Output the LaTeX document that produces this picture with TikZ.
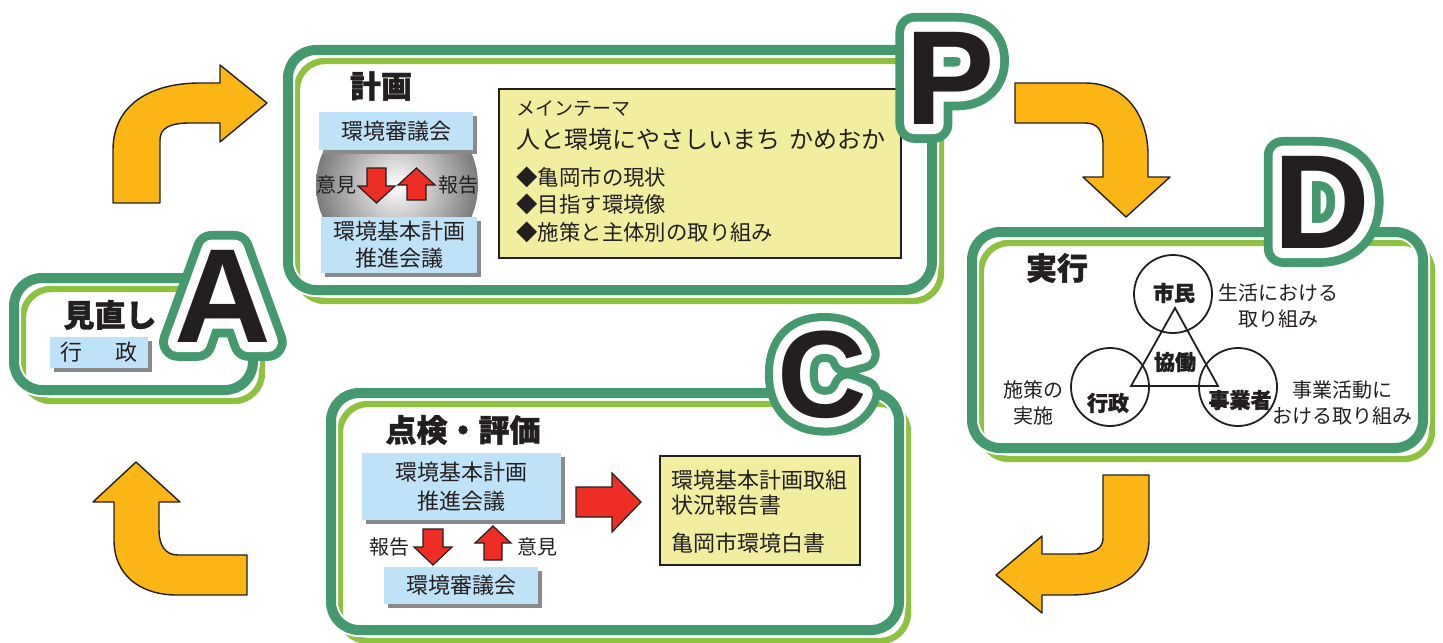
\documentclass[tikz,border=0pt]{standalone}
\usepackage{fontspec}
\setmainfont{Noto Sans CJK JP}
\newfontfamily\heavy{Noto Sans CJK JP}[BoldFeatures={FakeBold=1.3}]
\newfontfamily\letterblack{Liberation Sans Bold}
\newfontfamily\letterwhite{Liberation Sans Bold}[FakeBold=15]
\newfontfamily\lettergreen{Liberation Sans Bold}[FakeBold=28]
\usetikzlibrary{shadows}
\definecolor{dgreen}{HTML}{44996E}
\definecolor{lgreen}{HTML}{8DC13F}
\definecolor{orng}{HTML}{FBB616}
\definecolor{redA}{HTML}{EE2D24}
\definecolor{lblue}{HTML}{BEE3F8}
\definecolor{ylw}{HTML}{F2EE9F}
\definecolor{shadowgray}{HTML}{8A8A8A}
\definecolor{ink}{HTML}{231F20}
\begin{document}
\begin{tikzpicture}[x=0.5pt,y=-0.5pt,
  frameD/.style={draw=dgreen,line width=5pt,rounded corners=14pt},
  frameW/.style={draw=white,line width=7pt,rounded corners=14pt},
  frameL/.style={draw=lgreen,line width=3.2pt,rounded corners=14pt},
  bluebox/.style={fill=lblue,inner sep=0pt,align=center,text=ink,
     font=\fontsize{11pt}{13.5pt}\selectfont,
     drop shadow={shadow xshift=2pt,shadow yshift=-2pt,fill=shadowgray,opacity=1}},
  ylwbox/.style={fill=ylw,draw=ink,line width=0.8pt,inner sep=0pt},
  txt/.style={inner sep=0pt,text=ink,align=center,font=\fontsize{11pt}{13.5pt}\selectfont},
  stxt/.style={inner sep=0pt,text=ink,align=center,font=\fontsize{10pt}{13pt}\selectfont},
  ttl/.style={inner sep=0pt,text=ink,font=\heavy\bfseries\fontsize{15.5pt}{18pt}\selectfont},
  ctxt/.style={inner sep=0pt,text=ink,font=\heavy\bfseries\fontsize{10.5pt}{12pt}\selectfont},
  ring/.style={circle,draw=ink,line width=0.9pt,minimum size=39pt,inner sep=0pt},
  orarrow/.style={fill=orng,draw=ink,line width=0.7pt,line join=round},
  redarrow/.style={fill=redA,draw=ink,line width=0.6pt},
  letterG/.style={inner sep=0pt,anchor=base,text=dgreen,font=\lettergreen\fontsize{#1}{#1}\selectfont},
  letterW/.style={inner sep=0pt,anchor=base,text=white,font=\letterwhite\fontsize{#1}{#1}\selectfont},
  letterK/.style={inner sep=0pt,anchor=base,text=ink,font=\letterblack\fontsize{#1}{#1}\selectfont}
]
\useasboundingbox (0,0) rectangle (1443,642);

% ---------- frames ----------
% P
\draw[frameL] (297,61) rectangle (941,301);
\draw[frameW] (288,50) rectangle (932,290);
\draw[frameD] (288,50) rectangle (932,290);
% D
\draw[frameL] (981,243) rectangle (1432,459);
\draw[frameW] (972,232) rectangle (1423,448);
\draw[frameD] (972,232) rectangle (1423,448);
% C
\draw[frameL] (340,404) rectangle (908,641);
\draw[frameW] (331,393) rectangle (899,630);
\draw[frameD] (331,393) rectangle (899,630);
% A
\draw[frameL] (23,289) rectangle (262,401);
\draw[frameW] (14,278) rectangle (253,390);
\draw[frameD] (14,278) rectangle (253,390);

% ---------- P box ----------
\node[ttl] (pttl) at (381,86) {計画};
\begin{scope}
  \clip (300,148) rectangle (500,221);
  \shade[inner color=white,outer color=black!52] (397,185) circle (81);
\end{scope}
\node[bluebox,minimum width=77pt,minimum height=19pt] (pb1) at (396,131) {環境審議会};
\node[bluebox,minimum width=78pt,minimum height=28pt] (pb2) at (399,245) {環境基本計画\\推進会議};
\draw[redarrow] (367,168) -- (386,168) -- (386,186) -- (395,186) -- (376.5,203) -- (358,186) -- (367,186) -- cycle;
\draw[redarrow] (416.5,168) -- (435,185) -- (426,185) -- (426,200) -- (407,200) -- (407,185) -- (398,185) -- cycle;
\node[stxt] (piken) at (336,185) {意見};
\node[stxt] (phoukoku) at (458,185) {報告};

\node[ylwbox,minimum width=201pt,minimum height=84.5pt] (yP) at (700,173.5) {};
\node[inner sep=0pt,text=ink,anchor=west,font=\fontsize{9.5pt}{11pt}\selectfont] (theme) at (516,109) {メインテーマ};
\node[inner sep=0pt,text=ink,anchor=west,font=\fontsize{12pt}{14pt}\selectfont] (slogan) at (516,139) {人と環境にやさしいまち\hspace{0.4em}かめおか};
\node[txt,anchor=west,font=\fontsize{10.7pt}{13pt}\selectfont] (b1) at (516,177) {◆亀岡市の現状};
\node[txt,anchor=west,font=\fontsize{10.7pt}{13pt}\selectfont] (b2) at (516,204) {◆目指す環境像};
\node[txt,anchor=west,font=\fontsize{10.7pt}{13pt}\selectfont] (b3) at (516,232) {◆施策と主体別の取り組み};

% ---------- D box ----------
\node[ttl] (dttl) at (1057,268) {実行};
\node[ring] (shimin) at (1173,294) {};
\node[ring] (gyosei) at (1110,387) {};
\node[ring] (jigyo) at (1238,387) {};
\coordinate (tA) at (1175,308);
\coordinate (tL) at (1131,386);
\coordinate (tR) at (1218,386);
\draw[ink,line width=0.9pt,line join=miter] (tA) -- (tL) -- (tR) -- cycle;
\node[ctxt] (lshimin) at (1174,293) {市民};
\node[ctxt] (lgyosei) at (1108,403) {行政};
\node[ctxt] (ljigyo) at (1240,400) {事業者};
\node[ctxt] (kyodo) at (1175,362) {協働};
\node[stxt] (d1) at (1278,306) {生活における\\取り組み};
\node[stxt] (d2) at (1033,403) {施策の\\実施};
\node[stxt] (d3) at (1342,403) {事業活動に\\おける取り組み};

% ---------- C box ----------
\node[ttl] (cttl) at (463,430) {点検・評価};
\node[bluebox,minimum width=99.5pt,minimum height=33.5pt,font=\fontsize{11pt}{14.5pt}\selectfont] (cb1) at (461.5,486.5) {環境基本計画\\推進会議};
\node[bluebox,minimum width=77pt,minimum height=18.5pt] (cb2) at (461,585.5) {環境審議会};
\draw[redarrow] (423,529) -- (443,529) -- (443,547) -- (452,547) -- (433,565) -- (414,547) -- (423,547) -- cycle;
\draw[redarrow] (493,526) -- (511,543) -- (502,543) -- (502,560) -- (484,560) -- (484,543) -- (475,543) -- cycle;
\node[stxt] (choukoku) at (389,547) {報告};
\node[stxt] (ciken) at (537,547) {意見};
\draw[redarrow] (576,487) -- (612,487) -- (612,473) -- (641,502) -- (612,532) -- (612,517) -- (576,517) -- cycle;
\node[ylwbox,minimum width=100pt,minimum height=54.5pt] (yC) at (760,510.5) {};
\node[txt,anchor=west] (c1) at (671,480) {環境基本計画取組};
\node[txt,anchor=west] (c2) at (671,505) {状況報告書};
\node[txt,anchor=west] (c3) at (671,543) {亀岡市環境白書};

% ---------- A box ----------
\node[ttl] (attl) at (110,315) {見直し};
\node[bluebox,minimum width=49pt,minimum height=15.5pt] (ab) at (99,352.5) {行\hspace{1.5em}政};

% ---------- orange cycle arrows ----------
\draw[orarrow] (160,203) -- (160,140) .. controls (160,128) and (170,123) .. (190,123)
  -- (220,123) -- (220,142) -- (267,103) -- (220,65) -- (220,83) -- (200,83)
  .. controls (150,83) and (113,105) .. (113,150) -- (113,203) -- cycle;
\draw[orarrow] (1015,83) -- (1085,83) .. controls (1125,83) and (1148,115) .. (1148,155)
  -- (1148,177) -- (1170,177) -- (1126,217) -- (1083,177) -- (1103,177) -- (1103,145)
  .. controls (1103,130) and (1097,123) .. (1085,123) -- (1015,123) -- cycle;
\draw[orarrow] (1103,475) -- (1149,475) -- (1149,540) .. controls (1149,575) and (1115,595) .. (1070,595)
  -- (1042,595) -- (1042,613) -- (996,575) -- (1042,536) -- (1042,554) -- (1075,554)
  .. controls (1095,554) and (1103,548) .. (1103,538) -- cycle;
\draw[orarrow] (247,555) -- (178,555) .. controls (165,555) and (159,545) .. (159,530)
  -- (159,502) -- (180,502) -- (136,462) -- (93,502) -- (114,502) -- (114,540)
  .. controls (114,575) and (140,595) .. (177,595) -- (247,595) -- cycle;

% ---------- big letters ----------
\node[letterG=67pt] (Pg) at (950,124) {\pgfsetroundjoin P};
\node[letterW=67pt] (Pw) at (950,124) {\pgfsetroundjoin P};
\node[letterK=67pt] (P) at (950,124) {P};
\node[letterG=67pt] (Dg) at (1322,248) {\pgfsetroundjoin D};
\node[letterW=67pt] (Dw) at (1322,248) {\pgfsetroundjoin D};
\node[letterK=67pt] (D) at (1322,248) {D};
\node[letterG=62pt] (Cg) at (822,417) {\pgfsetroundjoin C};
\node[letterW=62pt] (Cw) at (822,417) {\pgfsetroundjoin C};
\node[letterK=62pt] (C) at (822,417) {C};
\node[letterG=67pt] (Ag) at (223,342) {\pgfsetroundjoin A};
\node[letterW=67pt] (Aw) at (223,342) {\pgfsetroundjoin A};
\node[letterK=67pt] (A) at (223,342) {A};
\end{tikzpicture}
\end{document}
